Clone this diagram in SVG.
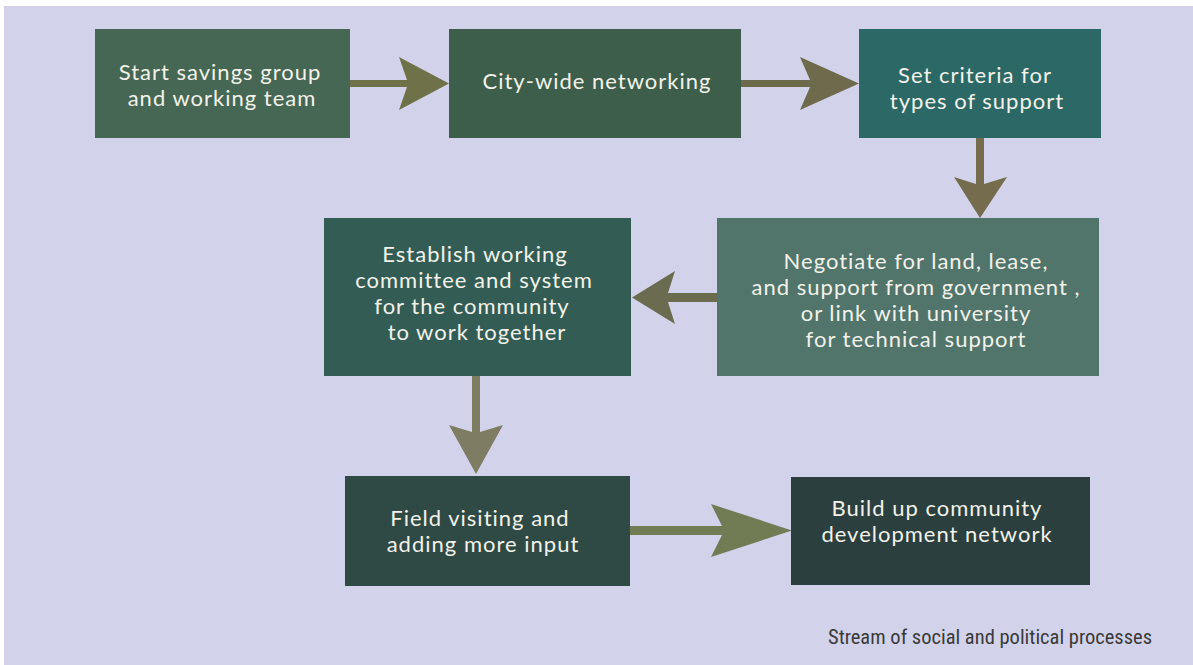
<svg xmlns="http://www.w3.org/2000/svg" width="1193" height="665" viewBox="0 0 1193 665">
<style>
.box text{font-family:Lato,"Open Sans","Noto Sans",sans-serif;font-size:22px;letter-spacing:1px;fill:#F2F2EA;text-anchor:middle}
.cap{font-family:"Liberation Sans Narrow","Roboto Condensed",Roboto,sans-serif;font-size:20px;fill:#3a3a3a}
</style>
<rect x="0" y="0" width="1193" height="665" fill="#FFFFFF"/>
<rect x="4" y="6" width="1189" height="659" fill="#D2D3EA"/>
<g id="connectors">
<polygon fill="#6F7148" points="350,80 407,80 399,57 449,83.5 399,110 407,87 350,87"/>
<polygon fill="#6E6B4D" points="741,80 810,80 800,57 859,83.5 800,110 810,87 741,87"/>
<polygon fill="#746C4C" points="976,137 976,184 954,177 980,218 1007,177 984,184 984,137"/>
<polygon fill="#6B6C4F" points="717,293 668,293 675,271 632,297.5 675,324 668,302 717,302"/>
<polygon fill="#7E7C62" points="472,376 472,432 449,425 476,474 503,425 480,432 480,376"/>
<polygon fill="#717C55" points="630,526 722,526 711,504 792,530.5 711,557 722,535 630,535"/>
</g>
<g id="n1" class="box"><rect x="95" y="29" width="255" height="109" fill="#466754"/><text x="220" y="80">Start savings group</text><text x="222" y="106">and working team</text></g>
<g id="n2" class="box"><rect x="449" y="29" width="292" height="109" fill="#3D5E4B"/><text x="597" y="89">City-wide networking</text></g>
<g id="n3" class="box"><rect x="859" y="29" width="242" height="109" fill="#2C6865"/><text x="975" y="82.5">Set criteria for</text><text x="977" y="108.5">types of support</text></g>
<g id="n4" class="box"><rect x="717" y="218" width="382" height="158" fill="#51756B"/><text x="916" y="268.5">Negotiate for land, lease,</text><text x="916" y="294.5">and support from government ,</text><text x="916" y="320.5">or link with university</text><text x="916" y="346.5">for technical support</text></g>
<g id="n5" class="box"><rect x="324" y="218" width="307" height="158" fill="#335D54"/><text x="475" y="261.5">Establish working</text><text x="474" y="287.5">committee and system</text><text x="472" y="313.5">for the community</text><text x="477" y="339.5">to work together</text></g>
<g id="n6" class="box"><rect x="345" y="476" width="285" height="110" fill="#2F4A44"/><text x="480" y="526">Field visiting and</text><text x="483" y="552">adding more input</text></g>
<g id="n7" class="box"><rect x="791" y="477" width="299" height="108" fill="#2B3F3E"/><text x="937" y="515.5">Build up community</text><text x="937" y="541.5">development network</text></g>
<text class="cap" x="828" y="644" textLength="324" lengthAdjust="spacingAndGlyphs">Stream of social and political processes</text>
</svg>
